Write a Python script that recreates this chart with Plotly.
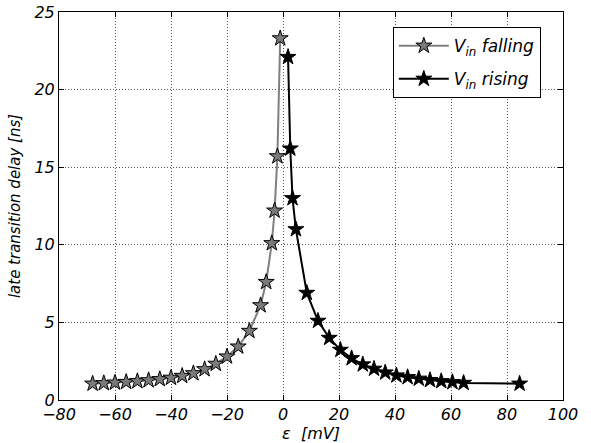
import plotly.graph_objects as go

# Data
fall_x = [-68, -64, -60, -56, -52, -48, -44, -40, -36, -32, -28, -24, -20, -16, -12, -8, -6, -4, -3, -2, -1]
fall_y = [1.05, 1.08, 1.12, 1.16, 1.21, 1.27, 1.34, 1.43, 1.55, 1.72, 1.98, 2.33, 2.80, 3.44, 4.45, 6.1, 7.6, 10.1, 12.2, 15.7, 23.3]

rise_x = [1.8, 2.6, 3.4, 4.6, 8.5, 12.5, 16.5, 20.5, 24.5, 28.5, 32.5, 36.5, 40.5, 44.5, 48.5, 52.5, 56.5, 60.5, 64.5, 84.5]
rise_y = [22.1, 16.2, 13.0, 11.0, 6.9, 5.1, 4.0, 3.23, 2.69, 2.29, 2.01, 1.77, 1.58, 1.47, 1.37, 1.28, 1.21, 1.15, 1.10, 1.05]

x_ticks = [-80, -60, -40, -20, 0, 20, 40, 60, 80, 100]
y_ticks = [0, 5, 10, 15, 20, 25]

FONT = "DejaVu Sans"

fig = go.Figure()
fig.add_trace(go.Scatter(
    x=fall_x, y=fall_y, mode="lines+markers",
    name="<i>V<sub>in</sub> falling</i>", legendgroup="fall",
    line=dict(color="#808080", width=2),
    marker=dict(symbol="star", size=12, color="#7a7a7a", line=dict(color="black", width=1)),
))
fig.add_trace(go.Scatter(
    x=rise_x, y=rise_y, mode="lines+markers",
    name="<i>V<sub>in</sub> rising</i>", legendgroup="rise",
    line=dict(color="black", width=2),
    marker=dict(symbol="star", size=12, color="black", line=dict(color="black", width=1)),
))

axis_common = dict(
    showline=True, linecolor="black", linewidth=1, mirror="ticks",
    ticks="inside", ticklen=5, tickcolor="black",
    showgrid=True, gridcolor="#555555", griddash="1px,2px", gridwidth=1,
    zeroline=False, automargin=False,
    tickfont=dict(family=FONT, size=16, color="black", style="italic"),
)

fig.update_xaxes(
    range=[-80, 100], tickvals=x_ticks,
    title=dict(text="ε  [mV]", font=dict(family=FONT, size=16, color="black", style="italic"), standoff=0),
    **axis_common,
)
fig.update_yaxes(
    range=[0, 25], tickvals=y_ticks,
    title=dict(text="late transition delay [ns]", font=dict(family=FONT, size=15, color="black", style="italic"), standoff=10),
    **axis_common,
)

fig.update_layout(
    width=591, height=443,
    margin=dict(l=59, r=28, t=12, b=43),
    paper_bgcolor="white", plot_bgcolor="white",
    font=dict(family=FONT, color="black"),
    legend=dict(
        x=0.956, y=0.961, xanchor="right", yanchor="top",
        bgcolor="white", bordercolor="black", borderwidth=1,
        font=dict(family=FONT, size=17, color="black"),
        itemwidth=50, tracegroupgap=8,
    ),
)

fig.write_html("out.html")
